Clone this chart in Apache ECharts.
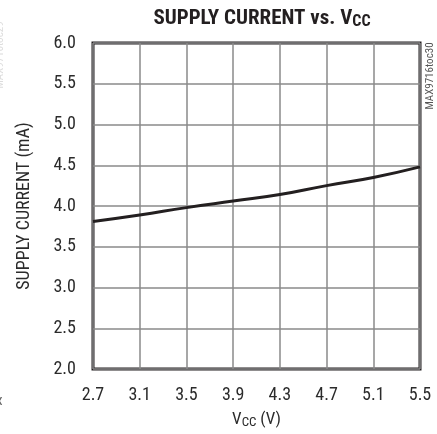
<!DOCTYPE html>
<html>
<head>
<meta charset="utf-8">
<script src="https://cdn.jsdelivr.net/npm/echarts@6/dist/echarts.min.js"></script>
<style>
html,body{margin:0;padding:0;background:#fff;}
#chart{width:437px;height:434px;}
</style>
</head>
<body>
<div id="chart"></div>
<script>
// Data
var vcc = [2.7, 3.1, 3.5, 3.9, 4.3, 4.7, 5.1, 5.5];
var supplyCurrent = [3.81, 3.89, 3.98, 4.06, 4.14, 4.25, 4.35, 4.48];
var xTicks = [2.7, 3.1, 3.5, 3.9, 4.3, 4.7, 5.1, 5.5];
var yTicks = [2.0, 2.5, 3.0, 3.5, 4.0, 4.5, 5.0, 5.5, 6.0];

var FONT = '"Roboto Condensed", "Liberation Sans", Arial, sans-serif';
var chart = echarts.init(document.getElementById('chart'), null, {renderer: 'canvas'});

var points = vcc.map(function (v, i) { return [v, supplyCurrent[i]]; });

chart.setOption({
  animation: false,
  backgroundColor: '#fff',
  title: {
    text: '{a|SUPPLY CURRENT vs. V}{b|CC}',
    left: 257,
    textAlign: 'center',
    top: 3,
    textStyle: {
      rich: {
        a: {fontFamily: FONT, fontWeight: 'bold', fontSize: 21, color: '#231f20'},
        b: {fontFamily: FONT, fontWeight: 'bold', fontSize: 16, color: '#231f20', padding: [6, 0, 0, 0]}
      }
    }
  },
  grid: {
    left: 93, right: 17, top: 43, bottom: 63,
    show: true, borderColor: '#231f20', borderWidth: 3, backgroundColor: 'transparent'
  },
  xAxis: {
    type: 'value',
    min: xTicks[0],
    max: xTicks[xTicks.length - 1],
    interval: 0.4,
    axisLine: {show: false},
    axisTick: {show: false},
    splitLine: {show: true, lineStyle: {color: '#8a8a8a', width: 1.5}},
    axisLabel: {
      margin: 17,
      fontFamily: FONT, fontSize: 18, color: '#2b2b2b',
      formatter: function (v) { return v.toFixed(1); }
    },
    name: '{a|V}{b|CC}{a| (V)}',
    nameLocation: 'middle',
    nameGap: 42,
    nameTextStyle: {
      rich: {
        a: {fontFamily: FONT, fontSize: 17, color: '#2b2b2b'},
        b: {fontFamily: FONT, fontSize: 13, color: '#2b2b2b', padding: [5, 0, 0, 0]}
      }
    }
  },
  yAxis: {
    type: 'value',
    min: yTicks[0],
    max: yTicks[yTicks.length - 1],
    interval: 0.5,
    axisLine: {show: false},
    axisTick: {show: false},
    splitLine: {show: true, lineStyle: {color: '#8a8a8a', width: 1.5}},
    axisLabel: {
      margin: 17,
      fontFamily: FONT, fontSize: 18, color: '#2b2b2b',
      formatter: function (v) { return v.toFixed(1); }
    },
    name: 'SUPPLY CURRENT (mA)',
    nameLocation: 'middle',
    nameGap: 60,
    nameTextStyle: {fontFamily: FONT, fontSize: 18, color: '#2b2b2b'}
  },
  series: [{
    type: 'line',
    data: points,
    smooth: true,
    showSymbol: false,
    lineStyle: {color: '#231f20', width: 3},
    z: 5
  }],
  graphic: [
    {
      type: 'text',
      x: 430, y: 76,
      rotation: Math.PI / 2,
      style: {text: 'MAX9716toc30', fontFamily: FONT, fontSize: 11, fill: '#555', align: 'center', verticalAlign: 'middle'}
    },
    {
      type: 'text',
      x: 0, y: 55,
      rotation: Math.PI / 2,
      style: {text: 'MAX9716toc29', fontFamily: FONT, fontSize: 11, fill: '#ddd', align: 'center', verticalAlign: 'middle'}
    },
    {
      type: 'text',
      x: -4, y: 401,
      style: {text: 'x', fontFamily: FONT, fontSize: 15, fill: '#666', align: 'left', verticalAlign: 'middle'}
    }
  ]
});
</script>
</body>
</html>
